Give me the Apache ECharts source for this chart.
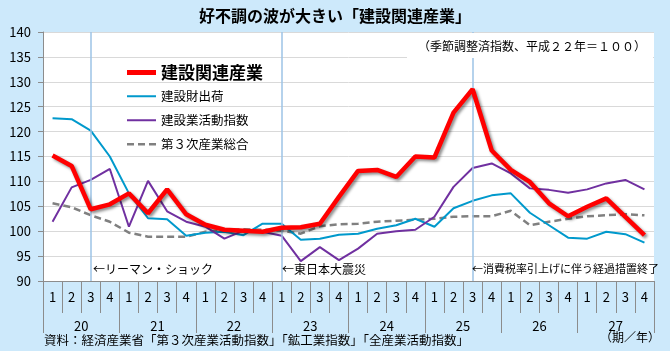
<!DOCTYPE html>
<html>
<head>
<meta charset="utf-8">
<script src="https://cdn.jsdelivr.net/npm/echarts@6/dist/echarts.min.js"></script>
<style>
  html, body { margin: 0; padding: 0; background: #cde9fb; }
  #chart { width: 670px; height: 351px; }
</style>
</head>
<body>
<div id="chart"></div>
<script>
// 四半期（平成20年1期〜27年4期）
const quarters = [
  '1','2','3','4', '1','2','3','4', '1','2','3','4', '1','2','3','4',
  '1','2','3','4', '1','2','3','4', '1','2','3','4', '1','2','3','4'
];
const years = ['20', '21', '22', '23', '24', '25', '26', '27'];

const kensetsuKanren = [
  115.2, 113.1, 104.4, 105.4, 107.6, 103.6, 108.4, 103.4,
  101.3, 100.3, 100.1, 99.9, 100.7, 100.8, 101.5, 106.9,
  112.1, 112.3, 110.9, 115.0, 114.8, 123.8, 128.5, 116.2,
  112.3, 109.9, 105.6, 103.0, 104.9, 106.6, 102.9, 99.2
];
const kensetsuzai = [
  122.7, 122.5, 120.2, 115.0, 107.6, 102.6, 102.4, 99.1,
  99.7, 99.9, 99.2, 101.5, 101.5, 98.3, 98.5, 99.3,
  99.5, 100.5, 101.2, 102.5, 100.9, 104.6, 106.1, 107.2,
  107.6, 103.7, 101.2, 98.7, 98.5, 99.9, 99.4, 97.7
];
const kensetsugyo = [
  101.9, 108.8, 110.3, 112.5, 100.9, 110.1, 104.0, 101.9,
  100.9, 98.5, 100.1, 99.9, 99.1, 94.0, 96.8, 94.2,
  96.5, 99.5, 100.0, 100.3, 102.9, 108.9, 112.7, 113.6,
  111.6, 108.6, 108.3, 107.7, 108.4, 109.6, 110.3, 108.4
];
const dai3ji = [
  105.6, 104.8, 103.2, 101.9, 99.7, 98.9, 98.9, 98.9,
  99.9, 100.2, 100.4, 100.3, 100.1, 99.5, 101.0, 101.4,
  101.5, 101.9, 102.1, 102.3, 102.5, 102.9, 103.0, 103.0,
  104.1, 101.2, 101.9, 102.5, 103.0, 103.2, 103.4, 103.2
];

// 出来事（四半期インデックス）
const events = [
  { idx: 2, text: '←リーマン・ショック', x: 93, size: 12 },
  { idx: 12, text: '←東日本大震災', x: 282, size: 12 },
  { idx: 22, text: '←消費税率引上げに伴う経過措置終了', x: 472, size: 11 }
];

const FONT = '"Noto Sans CJK JP", sans-serif';
const chart = echarts.init(document.getElementById('chart'), null, { renderer: 'canvas' });

// 凡例のアイコン（線だけ、丸印なし）
const ICON_THICK = 'path://M0,0h29v5h-29z';
const ICON_THIN = 'path://M0,0h29v2h-29z';
const ICON_DASH = 'path://M0,0h7v2.5h-7z M11,0h7v2.5h-7z M22,0h7v2.5h-7z';

function legendAt(name, top, icon, big) {
  return {
    data: [name],
    orient: 'vertical',
    left: 127,
    top: top,
    icon: icon,
    itemWidth: 29,
    itemHeight: 14,
    padding: 0,
    selectedMode: false,
    textStyle: big
      ? { fontFamily: FONT, fontSize: 17, fontWeight: 'bold', color: '#000' }
      : { fontFamily: FONT, fontSize: 12.5, color: '#000' }
  };
}

chart.setOption({
  backgroundColor: '#cde9fb',
  animation: false,
  title: {
    text: '好不調の波が大きい「建設関連産業」',
    left: 'center',
    top: 8,
    padding: 0,
    textStyle: { fontFamily: FONT, fontSize: 16, fontWeight: 'bold', color: '#000' }
  },
  legend: [
    legendAt('建設関連産業', 64, ICON_THICK, true),
    legendAt('建設財出荷', 90, ICON_THIN, false),
    legendAt('建設業活動指数', 114, ICON_THIN, false),
    legendAt('第３次産業総合', 138, ICON_DASH, false)
  ],
  grid: {
    left: 43, right: 16, top: 32, bottom: 70,
    show: true, backgroundColor: '#ffffff', borderWidth: 0
  },
  xAxis: [
    {
      type: 'category',
      data: quarters,
      boundaryGap: true,
      axisLine: { lineStyle: { color: '#8c8c8c', width: 1 } },
      axisTick: { show: true, interval: 0, length: 32, lineStyle: { color: '#8c8c8c' } },
      axisLabel: { interval: 0, margin: 10, fontFamily: FONT, fontSize: 13, color: '#000' },
      splitLine: { show: false }
    },
    {
      type: 'category',
      data: years,
      position: 'bottom',
      boundaryGap: true,
      axisLine: { show: false },
      axisTick: { show: true, interval: 0, length: 52, lineStyle: { color: '#8c8c8c' } },
      axisLabel: { interval: 0, margin: 39, fontFamily: FONT, fontSize: 13, color: '#000' },
      splitLine: { show: false }
    }
  ],
  yAxis: {
    type: 'value',
    min: 90,
    max: 140,
    interval: 5,
    axisLine: { show: true, lineStyle: { color: '#8c8c8c' } },
    axisTick: { show: true, length: 5, lineStyle: { color: '#8c8c8c' } },
    axisLabel: { margin: 12, fontFamily: FONT, fontSize: 13, color: '#000' },
    splitLine: { lineStyle: { color: '#d9d9d9', width: 1 } }
  },
  series: [
    {
      name: '建設関連産業',
      type: 'line',
      data: kensetsuKanren,
      symbol: 'none',
      z: 5,
      color: '#ff0000',
      lineStyle: {
        width: 4.5, color: '#ff0000',
        shadowColor: 'rgba(0,0,0,0.45)', shadowBlur: 3, shadowOffsetX: 2, shadowOffsetY: 2
      }
    },
    {
      name: '建設財出荷',
      type: 'line',
      data: kensetsuzai,
      symbol: 'none',
      z: 3,
      color: '#0099cc',
      lineStyle: { width: 2, color: '#0099cc' }
    },
    {
      name: '建設業活動指数',
      type: 'line',
      data: kensetsugyo,
      symbol: 'none',
      z: 3,
      color: '#7030a0',
      lineStyle: { width: 2, color: '#7030a0' }
    },
    {
      name: '第３次産業総合',
      type: 'line',
      data: dai3ji,
      symbol: 'none',
      z: 2,
      color: '#808080',
      lineStyle: { width: 2.5, color: '#808080', type: [7, 4] },
      markLine: {
        silent: true,
        symbol: 'none',
        label: { show: false },
        lineStyle: { color: '#9dc3e6', width: 1.5, type: 'solid' },
        data: events.map(e => ({ xAxis: e.idx }))
      }
    }
  ],
  graphic: [
    {
      type: 'rect',
      left: 407, top: 33,
      shape: { width: 246, height: 25 },
      style: { fill: '#ffffff' },
      z: 10
    },
    {
      type: 'text',
      left: 418, top: 40,
      style: {
        text: '（季節調整済指数、平成２２年＝１００）',
        font: '12px ' + FONT, fill: '#000'
      },
      z: 11
    },
    ...events.map(e => ({
      type: 'text',
      left: e.x, top: 263,
      style: { text: e.text, font: e.size + 'px ' + FONT, fill: '#000' },
      z: 11
    })),
    {
      type: 'text',
      left: 44, top: 334,
      style: {
        text: '資料：経済産業省「第３次産業活動指数」「鉱工業指数」「全産業活動指数」',
        font: '12.5px ' + FONT, fill: '#000'
      }
    },
    {
      type: 'text',
      left: 600, top: 331,
      style: { text: '（期／年）', font: '12px ' + FONT, fill: '#000' }
    }
  ]
});
</script>
</body>
</html>
